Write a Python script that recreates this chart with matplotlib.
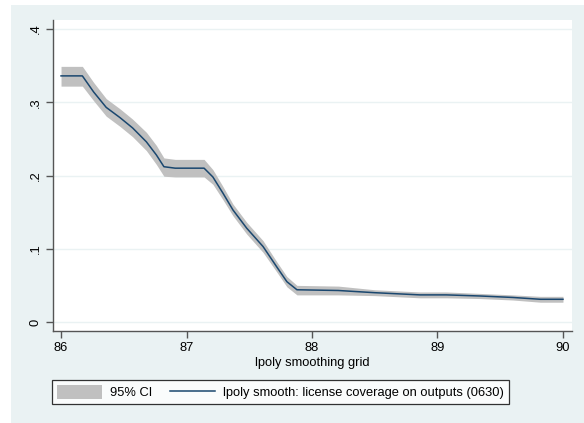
import matplotlib
matplotlib.use('Agg')
import matplotlib.pyplot as plt
from matplotlib.patches import Rectangle, Patch
from matplotlib.lines import Line2D

plt.rcParams['font.family'] = ['Liberation Sans', 'DejaVu Sans']

# lpoly grid and smoothed estimate with 95% CI
grid = [86.00, 86.17, 86.26, 86.36, 86.47, 86.57, 86.68, 86.76, 86.82, 86.91,
        87.14, 87.21, 87.29, 87.37, 87.48, 87.61, 87.72, 87.80, 87.88, 88.21,
        88.50, 88.86, 89.07, 89.34, 89.60, 89.82, 90.00]
smooth = [0.336, 0.336, 0.314, 0.293, 0.279, 0.265, 0.246, 0.228, 0.212, 0.210,
          0.210, 0.198, 0.176, 0.153, 0.128, 0.103, 0.075, 0.055, 0.044, 0.043,
          0.040, 0.037, 0.037, 0.0355, 0.0335, 0.031, 0.031]
ci_lo = [0.322, 0.322, 0.302, 0.281, 0.267, 0.253, 0.234, 0.215, 0.199, 0.198,
         0.198, 0.188, 0.167, 0.145, 0.120, 0.095, 0.068, 0.048, 0.037, 0.037,
         0.036, 0.033, 0.033, 0.032, 0.030, 0.027, 0.027]
ci_hi = [0.349, 0.349, 0.327, 0.305, 0.291, 0.277, 0.259, 0.241, 0.224, 0.222,
         0.222, 0.208, 0.185, 0.161, 0.136, 0.111, 0.082, 0.062, 0.050, 0.049,
         0.044, 0.041, 0.041, 0.039, 0.037, 0.035, 0.035]
xticks = [86, 87, 88, 89, 90]
yticks = [0, 0.1, 0.2, 0.3, 0.4]
ytick_labels = ['0', '.1', '.2', '.3', '.4']

navy = '#1a476f'
ci_gray = '#c0c0c0'
bg = '#eaf2f3'

fig = plt.figure(figsize=(5.84, 4.23), dpi=100, facecolor='white')
fig.patches.append(Rectangle((11 / 584, 0), 1 - 11 / 584, 1 - 5 / 423,
                             transform=fig.transFigure, facecolor=bg,
                             edgecolor='none', zorder=-10))

ax = fig.add_axes([53 / 584, 1 - 331 / 423, (572 - 53) / 584, (331 - 20) / 423])
ax.set_facecolor('white')

ax.fill_between(grid, ci_lo, ci_hi, color=ci_gray, linewidth=0, zorder=2)
ax.plot(grid, smooth, color=navy, linewidth=1.1, zorder=3)

ax.set_xlim(85.936, 90.072)
ax.set_ylim(-0.0123, 0.4123)
ax.set_xticks(xticks)
ax.set_xticklabels([str(t) for t in xticks])
ax.set_yticks(yticks)
ax.set_yticklabels(ytick_labels, rotation=90, va='center')
ax.grid(axis='y', color=bg, linewidth=1.0, zorder=1)
ax.grid(axis='x', visible=False)
ax.set_axisbelow(True)

for s in ['top', 'right']:
    ax.spines[s].set_visible(False)
for s in ['left', 'bottom']:
    ax.spines[s].set_color('#555555')
    ax.spines[s].set_linewidth(1.0)
ax.tick_params(direction='out', length=5, width=1, color='#555555',
               labelsize=9.3, pad=3)
ax.set_xlabel('lpoly smoothing grid', fontsize=9.3, labelpad=2)

handles = [Patch(facecolor=ci_gray, edgecolor='none'),
           Line2D([0], [0], color=navy, linewidth=1.1)]
labels = ['95% CI', 'lpoly smooth: license coverage on outputs (0630)']
leg = fig.legend(handles, labels, loc='center', ncol=2,
                 bbox_to_anchor=(280.5 / 584, 1 - 392 / 423),
                 fontsize=9.3, frameon=True, fancybox=False,
                 edgecolor='black', handlelength=3.5, handleheight=1.3,
                 columnspacing=1.4, handletextpad=0.6, borderpad=0.4)
leg.get_frame().set_linewidth(0.9)
leg.get_frame().set_facecolor('white')

fig.savefig('out.png', dpi=100, facecolor=fig.get_facecolor())
